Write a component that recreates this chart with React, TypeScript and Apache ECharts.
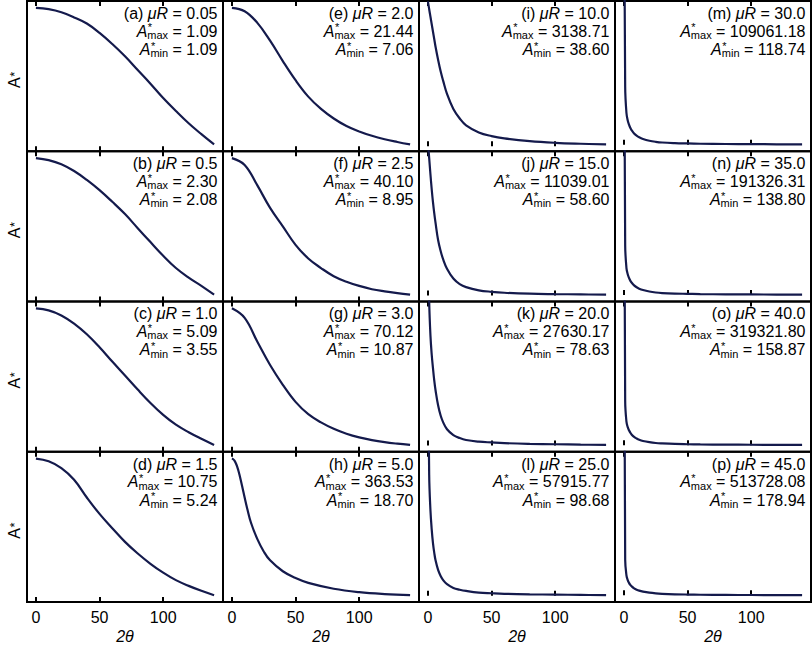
import React, { useEffect, useRef } from 'react';
import * as echarts from 'echarts';

// Panels are ordered column by column: (a)-(d), (e)-(h), (i)-(l), (m)-(p)
const panelLetters = ['a', 'b', 'c', 'd', 'e', 'f', 'g', 'h', 'i', 'j', 'k', 'l', 'm', 'n', 'o', 'p'];
const muRLabels = ['0.05', '0.5', '1.0', '1.5', '2.0', '2.5', '3.0', '5.0', '10.0', '15.0', '20.0', '25.0', '30.0', '35.0', '40.0', '45.0'];

// 2θ sampling (degrees): a coarse grid for the gentle curves, a fine one for the steep ones
const thetaCoarse = [0, 10, 20, 30, 40, 50, 60, 70, 80, 90, 100, 110, 120, 130, 140];
const thetaFine = [0, 1, 2, 3, 4, 5, 6, 8, 10, 12, 15, 20, 25, 30, 40, 50, 60, 80, 100, 120, 140];

// A* versus 2θ for each μR
const absA = [1.094, 1.09392, 1.09374, 1.09344, 1.09308, 1.09253, 1.09188, 1.09116, 1.09036, 1.08956, 1.08872, 1.08796, 1.08724, 1.0866, 1.086];
const absB = [2.3, 2.2967, 2.2901, 2.2791, 2.2648, 2.2483, 2.2296, 2.2098, 2.1871, 2.1647, 2.1427, 2.1229, 2.1075, 2.0943, 2.08];
const absC = [5.09, 5.0669, 5.0099, 4.9175, 4.7974, 4.6511, 4.4894, 4.3323, 4.1737, 4.0228, 3.8888, 3.7779, 3.6932, 3.6193, 3.55];
const absD = [10.75, 10.64, 10.364, 9.896, 9.18, 8.518, 7.94, 7.389, 6.921, 6.507, 6.149, 5.846, 5.615, 5.416, 5.24];
const absE = [21.44, 21.081, 19.858, 17.989, 15.832, 13.819, 12.093, 10.799, 9.792, 9.001, 8.426, 7.966, 7.606, 7.319, 7.06];
const absF = [40.1, 38.543, 33.87, 28.73, 24.525, 20.32, 17.205, 15.024, 13.155, 11.909, 10.944, 10.196, 9.698, 9.293, 8.95];
const absG = [70.12, 65.973, 55.604, 45.531, 36.94, 29.534, 24.201, 20.646, 17.862, 15.729, 14.129, 12.944, 12.055, 11.403, 10.87];
const absH = [363.53, 361.81, 358.36, 352.5, 344.56, 334.22, 322.15, 294.56, 265.25, 237.67, 201.46, 160.08, 129.05, 106.63, 79.05, 61.8, 49.73, 34.91, 26.29, 21.46, 18.7];
const absI = [3138.71, 2969.0, 2806.2, 2643.4, 2480.6, 2317.8, 2155.0, 1873.8, 1622.2, 1415.0, 1133.8, 808.2, 601.0, 453.0, 299.1, 219.2, 168.8, 109.6, 74.1, 53.4, 38.6];
const absJ = [11039.01, 9818.6, 8647.4, 7573.8, 6646.6, 5865.8, 5182.6, 3962.6, 3181.8, 2576.7, 1913.0, 1210.3, 810.1, 595.4, 370.9, 263.6, 195.2, 126.9, 97.6, 78.1, 58.6];
const absK = [27630.17, 17928.6, 13678.6, 11298.6, 9598.6, 8068.6, 6878.6, 5008.6, 3733.6, 2883.6, 2033.6, 1302.6, 928.6, 690.6, 486.6, 384.6, 299.6, 214.6, 163.6, 112.6, 78.63];
const absL = [57915.77, 24738.7, 17458.7, 13538.7, 10738.7, 8778.7, 7238.7, 5278.7, 4018.7, 3178.7, 2338.7, 1582.7, 1218.7, 966.7, 630.7, 490.7, 378.7, 266.7, 210.7, 154.7, 98.68];
const absM = [109061.18, 16918.7, 9318.7, 7118.7, 5918.7, 4998.7, 4318.7, 3318.7, 2678.7, 2198.7, 1718.7, 1198.7, 878.7, 678.7, 498.7, 398.7, 318.7, 238.7, 198.7, 158.7, 118.74];
const absN = [191326.31, 21738.8, 11838.8, 9138.8, 7518.8, 6318.8, 5478.8, 4218.8, 3378.8, 2778.8, 2178.8, 1518.8, 1098.8, 858.8, 618.8, 498.8, 378.8, 288.8, 228.8, 186.8, 138.8];
const absO = [319321.8, 28958.9, 15458.9, 11858.9, 9788.9, 8258.9, 7088.9, 5468.9, 4388.9, 3578.9, 2768.9, 1958.9, 1418.9, 1148.9, 788.9, 608.9, 473.9, 338.9, 275.9, 221.9, 158.87];
const absP = [513728.08, 36578.9, 20478.9, 15578.9, 12778.9, 10678.9, 9278.9, 7178.9, 5778.9, 4798.9, 3818.9, 2698.9, 1998.9, 1578.9, 1088.9, 808.9, 626.9, 430.9, 332.9, 262.9, 178.94];

const curves = [absA, absB, absC, absD, absE, absF, absG, absH, absI, absJ, absK, absL, absM, absN, absO, absP];
const thetaOf = [
  thetaCoarse, thetaCoarse, thetaCoarse, thetaCoarse,
  thetaCoarse, thetaCoarse, thetaCoarse, thetaFine,
  thetaFine, thetaFine, thetaFine, thetaFine,
  thetaFine, thetaFine, thetaFine, thetaFine,
];

// Vertical span shown for the steep panels (the 2θ = 0 peak runs off the top); null = fit the data
const visibleSpan: (number | null)[] = [null, null, null, null, null, null, null, null, 2960, 9760, 17000, 28000, 40000, 60000, 90000, 140000];

const xTicks = [0, 50, 100];
const xMin = -7;
const xMax = 147;

const FONT = '"Liberation Sans", Arial, Helvetica, sans-serif';
const CURVE_COLOR = '#141a4c';

// panel geometry (px)
const L0 = 27;
const T0 = 1;
const PW = 196;
const PH = 150.25;
const CENTRAL = 0.3465; // central-baseline offset as a fraction of font size

export default function App() {
  const ref = useRef<HTMLDivElement>(null);

  useEffect(() => {
    const el = ref.current;
    if (!el) return;
    const chart = echarts.init(el, undefined, { renderer: 'svg' });

    const ctx = document.createElement('canvas').getContext('2d') as CanvasRenderingContext2D;
    const fontOf = (size: number, italic: boolean) => `${italic ? 'italic ' : ''}${size}px ${FONT}`;
    const width = (text: string, size: number, italic = false) => {
      ctx.font = fontOf(size, italic);
      return ctx.measureText(text).width;
    };
    const txt = (x: number, baseline: number, text: string, size: number, italic = false, align = 'left') => ({
      type: 'text',
      x,
      y: baseline - CENTRAL * size,
      z: 50,
      silent: true,
      style: { text, font: fontOf(size, italic), fill: '#000', align, verticalAlign: 'middle' },
    });

    const grids: any[] = [];
    const xAxes: any[] = [];
    const yAxes: any[] = [];
    const series: any[] = [];
    const graphics: any[] = [];

    const tickStyle = { show: true, inside: true, length: 5, lineStyle: { color: '#000', width: 2 }, customValues: xTicks };

    curves.forEach((vals, k) => {
      const col = Math.floor(k / 4);
      const row = k % 4;
      const left = L0 + col * PW;
      const top = T0 + row * PH;

      grids.push({ left, top, width: PW, height: PH, show: true, borderColor: '#000', borderWidth: 2, backgroundColor: 'transparent' });

      xAxes.push({
        type: 'value', gridIndex: k, position: 'bottom', min: xMin, max: xMax,
        axisLine: { show: false }, splitLine: { show: false }, axisTick: tickStyle,
        axisLabel: { show: row === 3, customValues: xTicks, margin: 7, fontSize: 16, fontFamily: FONT, color: '#000' },
      });
      xAxes.push({
        type: 'value', gridIndex: k, position: 'top', min: xMin, max: xMax,
        axisLine: { show: false }, splitLine: { show: false }, axisTick: tickStyle, axisLabel: { show: false },
      });

      const aMax = vals[0];
      const aMin = vals[vals.length - 1];
      const span = visibleSpan[k] ?? aMax - aMin;
      yAxes.push({ type: 'value', gridIndex: k, show: false, min: aMin - 0.05 * span, max: aMin + 1.05 * span });

      const theta = thetaOf[k];
      series.push({
        type: 'line', xAxisIndex: 2 * k, yAxisIndex: k,
        data: theta.map((t, i) => [t, vals[i]]),
        symbol: 'none', smooth: 0.4, clip: true, z: 3,
        lineStyle: { color: CURVE_COLOR, width: 2.2 },
      });

      // annotation block, right-aligned in the panel's upper corner
      const R = left + PW - 5.5;
      const b1 = top + 18;
      const b2 = top + 35.7;
      const b3 = top + 54;

      const s1 = `(${panelLetters[k]}) `;
      const s2 = 'μR';
      const s3 = ` = ${muRLabels[k]}`;
      const w3 = width(s3, 16);
      const w2 = width(s2, 16, true);
      const w1 = width(s1, 16);
      graphics.push(txt(R - w3 - w2 - w1, b1, s1, 16));
      graphics.push(txt(R - w3 - w2, b1, s2, 16, true));
      graphics.push(txt(R - w3, b1, s3, 16));

      const starLine = (baseline: number, sub: string, value: number) => {
        const vText = ` = ${value.toFixed(2)}`;
        const wv = width(vText, 16);
        const ws = width(sub, 11);
        const wa = width('A', 16, true);
        const xv = R - wv;
        const xs = xv - ws;
        const xa = xs - wa;
        graphics.push(txt(xa, baseline, 'A', 16, true));
        graphics.push(txt(xs, baseline + 2, sub, 11));
        graphics.push(txt(xs + 0.5, baseline - 5.5, '*', 11));
        graphics.push(txt(xv, baseline, vText, 16));
      };
      starLine(b2, 'max', aMax);
      starLine(b3, 'min', aMin);
    });

    // y-axis titles, one per row
    for (let row = 0; row < 4; row++) {
      const top = T0 + row * PH;
      const wa = width('A', 16);
      graphics.push({
        type: 'group', x: 20, y: top + 87, rotation: Math.PI / 2, silent: true,
        children: [
          { type: 'text', x: 0, y: -CENTRAL * 16, style: { text: 'A', font: fontOf(16, false), fill: '#000', align: 'left', verticalAlign: 'middle' } },
          { type: 'text', x: wa + 0.5, y: -CENTRAL * 13 - 1, style: { text: '*', font: fontOf(13, false), fill: '#000', align: 'left', verticalAlign: 'middle' } },
        ],
      });
    }

    // x-axis titles under each column
    for (let col = 0; col < 4; col++) {
      graphics.push(txt(L0 + col * PW + PW / 2, 642.5, '2θ', 16, true, 'center'));
    }

    chart.setOption({
      animation: false,
      backgroundColor: '#fff',
      grid: grids,
      xAxis: xAxes,
      yAxis: yAxes,
      series,
      graphic: { elements: graphics },
    });

    return () => chart.dispose();
  }, []);

  return <div ref={ref} style={{ position: 'fixed', left: 0, top: 0, width: 812, height: 647, background: '#fff' }} />;
}
